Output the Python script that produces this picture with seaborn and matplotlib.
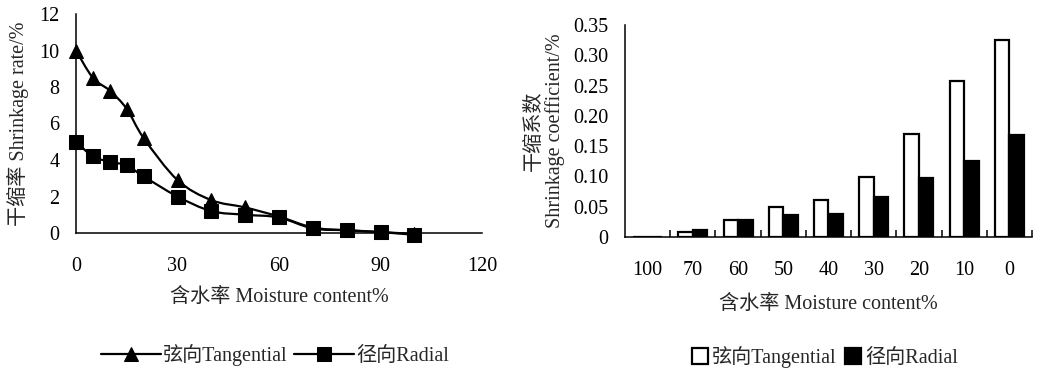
import matplotlib
matplotlib.use("Agg")
import matplotlib.pyplot as plt
from matplotlib.ticker import FuncFormatter, FixedLocator
from matplotlib.patches import Patch, PathPatch
from matplotlib.path import Path
import seaborn as sns
import pandas as pd
import numpy as np

# ---- data: left line chart ----
moisture = [0, 5, 10, 15, 20, 30, 40, 50, 60, 70, 80, 90, 100]
tangential_rate = [10.0, 8.5, 7.8, 6.8, 5.2, 2.9, 1.8, 1.4, 0.9, 0.3, 0.15, 0.05, -0.05]
radial_rate = [5.0, 4.2, 3.9, 3.7, 3.1, 2.0, 1.2, 1.0, 0.85, 0.25, 0.15, 0.05, -0.1]

# ---- data: right bar chart ----
bar_categories = ["100", "70", "60", "50", "40", "30", "20", "10", "0"]
tangential_coef = [0.0, 0.008, 0.028, 0.050, 0.061, 0.099, 0.170, 0.258, 0.326]
radial_coef = [0.0, 0.011, 0.028, 0.036, 0.038, 0.066, 0.098, 0.125, 0.168]

series_names = ["弦向Tangential", "径向Radial"]

sns.set_style("white")
plt.rcParams['font.family'] = ['Liberation Serif', 'Noto Sans CJK SC']
plt.rcParams['axes.unicode_minus'] = False

FS = 14.5
LW = 1.6


def smooth_line_path(xs, ys):
    """Excel-style smoothed connector (Catmull-Rom as cubic Bezier) through the data points."""
    pts = np.column_stack([xs, ys]).astype(float)
    n = len(pts)
    verts = [pts[0]]
    codes = [Path.MOVETO]
    for i in range(n - 1):
        p0 = pts[max(i - 1, 0)]
        p1 = pts[i]
        p2 = pts[i + 1]
        p3 = pts[min(i + 2, n - 1)]
        verts += [p1 + (p2 - p0) / 6.0, p2 - (p3 - p1) / 6.0, p2]
        codes += [Path.CURVE4] * 3
    return Path(verts, codes)


fig = plt.figure(figsize=(10.52, 3.79), dpi=100)

# ---------------- left chart ----------------
ax1 = fig.add_axes([76/1052, (379-233)/379, 406/1052, 219/379])
df_line = pd.DataFrame({
    "mc": moisture * 2,
    "rate": tangential_rate + radial_rate,
    "series": [series_names[0]] * len(moisture) + [series_names[1]] * len(moisture),
})
sns.lineplot(data=df_line, x="mc", y="rate", hue="series", style="series",
             markers={series_names[0]: "^", series_names[1]: "s"}, dashes=False,
             palette=["black", "black"], linewidth=LW, markersize=10,
             markeredgecolor="black", ax=ax1, legend=True)
h1, l1 = ax1.get_legend_handles_labels()
ax1.get_legend().remove()
fig.legend(h1, l1, loc="center", bbox_to_anchor=(275/1052, 1 - 355/379), ncol=2,
           frameon=False, fontsize=FS, handlelength=3.0, handletextpad=0.1,
           columnspacing=0.3, borderaxespad=0)
# replace straight connectors with smoothed ones (legend keeps its line sample)
for ln in ax1.lines:
    ln.set_linestyle("")
    ln.set_clip_on(False)
    ln.set_zorder(3)
for ys in (tangential_rate, radial_rate):
    ax1.add_patch(PathPatch(smooth_line_path(moisture, ys), fill=False, edgecolor="black",
                            linewidth=LW, zorder=2, clip_on=False))
ax1.set_xlim(0, 120)
ax1.set_ylim(0, 12)
ax1.set_xticks([0, 30, 60, 90, 120])
ax1.set_yticks([0, 2, 4, 6, 8, 10, 12])
for s in ["top", "right"]:
    ax1.spines[s].set_visible(False)
for s in ["left", "bottom"]:
    ax1.spines[s].set_color("black")
    ax1.spines[s].set_linewidth(1.1)
ax1.tick_params(axis="x", direction="in", length=5, width=1.1, pad=17, labelsize=FS, colors="black")
ax1.tick_params(axis="y", direction="out", length=5, width=1.1, pad=7, labelsize=FS, colors="black")
ax1.set_xlabel("含水率 Moisture content%", fontsize=FS, labelpad=9)
ax1.set_ylabel("干缩率 Shrinkage rate/%", fontsize=FS, labelpad=7)

# ---------------- right chart ----------------
ax2 = fig.add_axes([625/1052, (379-237)/379, 407/1052, 212/379])
df_bar = pd.DataFrame({
    "mc": bar_categories * 2,
    "coef": tangential_coef + radial_coef,
    "series": [series_names[0]] * len(bar_categories) + [series_names[1]] * len(bar_categories),
})
sns.barplot(data=df_bar, x="mc", y="coef", hue="series", order=bar_categories,
            hue_order=series_names, palette=["white", "black"], edgecolor="black",
            linewidth=LW, width=0.64, gap=0, ax=ax2, legend=False)
ax2.set_xlim(-0.5, len(bar_categories) - 0.5)
ax2.set_ylim(0, 0.35)
ax2.set_yticks(np.arange(0, 0.351, 0.05))
ax2.yaxis.set_major_formatter(FuncFormatter(lambda v, p: "0" if abs(v) < 1e-9 else f"{v:.2f}"))
ax2.xaxis.set_minor_locator(FixedLocator(np.arange(0.5, len(bar_categories) - 0.4, 1.0)))
for s in ["top", "right"]:
    ax2.spines[s].set_visible(False)
for s in ["left", "bottom"]:
    ax2.spines[s].set_color("black")
    ax2.spines[s].set_linewidth(1.1)
ax2.tick_params(axis="x", which="major", length=0, pad=17, labelsize=FS, colors="black")
ax2.tick_params(axis="x", which="minor", direction="in", length=5, width=1.1, colors="black", bottom=True)
ax2.tick_params(axis="y", direction="out", length=5, width=1.1, pad=7, labelsize=FS, colors="black")
ax2.set_xlabel("含水率 Moisture content%", fontsize=FS, labelpad=11)
ax2.set_ylabel("干缩系数\nShrinkage coefficient/%", fontsize=FS, labelpad=6,
               linespacing=1.05, multialignment="center")
handles2 = [Patch(facecolor="white", edgecolor="black", linewidth=LW),
            Patch(facecolor="black", edgecolor="black", linewidth=LW)]
fig.legend(handles2, series_names, loc="center", bbox_to_anchor=(825/1052, 1 - 357/379), ncol=2,
           frameon=False, fontsize=FS, handlelength=0.8, handleheight=0.8, handletextpad=0.2,
           columnspacing=0.4, borderaxespad=0)

fig.savefig("out.png", dpi=100)
